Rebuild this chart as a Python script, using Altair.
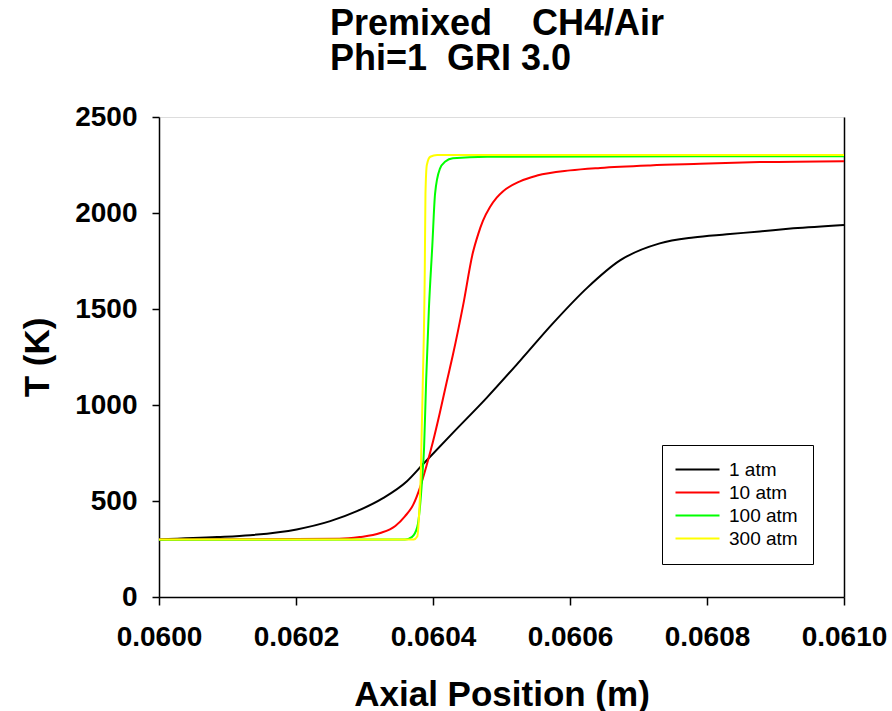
import altair as alt
import pandas as pd

# ---- data ----
series_names = ["1 atm", "10 atm", "100 atm", "300 atm"]
series_colors = ["#000000", "#ff0000", "#00ff00", "#ffff00"]

x_1atm = [0.060000, 0.060085, 0.060133, 0.060201, 0.060250, 0.060289, 0.060327,
          0.060362, 0.060385, 0.060429, 0.060479, 0.060527, 0.060575, 0.060625,
          0.060673, 0.060731, 0.060780, 0.060829, 0.060877, 0.060926, 0.061000]
t_1atm = [300, 312, 322, 352, 395, 447, 515,
          603, 690, 855, 1040, 1230, 1425, 1610,
          1753, 1842, 1873, 1889, 1904, 1920, 1938]

x_10atm = [0.060000, 0.060263, 0.060293, 0.060323, 0.060345, 0.060359, 0.060371,
           0.060381, 0.060391, 0.060400, 0.060410, 0.060420, 0.060429, 0.060444,
           0.060458, 0.060466, 0.060473, 0.060483, 0.060493, 0.060502, 0.060527,
           0.060552, 0.060600, 0.060644, 0.060717, 0.060790, 0.060877, 0.061000]
t_10atm = [300, 303, 312, 333, 370, 420, 480,
           570, 690, 810, 960, 1120, 1260, 1520,
           1790, 1890, 1960, 2030, 2080, 2112, 2165,
           2195, 2222, 2235, 2248, 2256, 2265, 2270]

x_100atm = [0.060000, 0.060359, 0.060369, 0.060377, 0.060381, 0.060384, 0.060387,
            0.060390, 0.060394, 0.060399, 0.060403, 0.060410, 0.060418, 0.060429,
            0.060479, 0.061000]
t_100atm = [298, 299, 312, 364, 470, 608, 780,
            1129, 1500, 1830, 2100, 2230, 2268, 2285,
            2293, 2296]

x_300atm = [0.060000, 0.060372, 0.060377, 0.060380, 0.060382, 0.060385, 0.060388,
            0.060389, 0.060391, 0.060396, 0.060406, 0.061000]
t_300atm = [300, 300, 315, 450, 620, 1100, 1700,
            2100, 2250, 2293, 2302, 2302]

x_ticks = [0.0600, 0.0602, 0.0604, 0.0606, 0.0608, 0.0610]
y_ticks = [0, 500, 1000, 1500, 2000, 2500]

title_lines = ["Premixed\u00a0\u00a0\u00a0\u00a0CH4/Air", "Phi=1\u00a0\u00a0GRI 3.0"]

frames = []
for name, xs, ts in zip(series_names,
                        [x_1atm, x_10atm, x_100atm, x_300atm],
                        [t_1atm, t_10atm, t_100atm, t_300atm]):
    frames.append(pd.DataFrame({"x": xs, "T": ts, "series": name}))
df = pd.concat(frames, ignore_index=True)

FONT = "Liberation Sans"

x_enc = alt.X("x:Q",
              scale=alt.Scale(domain=[0.06, 0.061], nice=False, zero=False),
              axis=alt.Axis(values=x_ticks, format=".4f", title="Axial Position (m)",
                            grid=False, tickSize=8, labelPadding=18,
                            labelFontSize=28, labelFont=FONT, labelFontWeight="bold",
                            labelColor="black", labelOverlap=False, labelFlush=False,
                            labelBound=False,
                            titleFontSize=35, titleFont=FONT, titleFontWeight="bold",
                            titleColor="black", titleBaseline="alphabetic",
                            titleY=108,
                            domainColor="black", domainWidth=1.5,
                            tickColor="black", tickWidth=1.5))

y_scale = alt.Scale(domain=[0, 2500], nice=False, zero=True)

lines = alt.Chart(df).mark_line(strokeWidth=2, interpolate="monotone").encode(
    x=x_enc,
    y=alt.Y("T:Q", scale=y_scale,
            axis=alt.Axis(values=y_ticks, format="d", title="T (K)", orient="left",
                          grid=False, tickSize=7, labelPadding=15,
                          labelFontSize=28, labelFont=FONT, labelFontWeight="bold",
                          labelColor="black", labelOverlap=False, labelFlush=False,
                          labelBound=False,
                          titleFontSize=35, titleFont=FONT, titleFontWeight="bold",
                          titleColor="black", titleAngle=270,
                          titleBaseline="alphabetic", titleX=-111, titleY=240,
                          domainColor="black", domainWidth=1.5,
                          tickColor="black", tickWidth=1.5)),
    color=alt.Color("series:N",
                    scale=alt.Scale(domain=series_names, range=series_colors),
                    sort=series_names,
                    legend=alt.Legend(title=None, orient="none",
                                      legendX=503, legendY=328,
                                      symbolType="M-4,0H4", symbolSize=121,
                                      symbolStrokeWidth=2, symbolOffset=11,
                                      labelFontSize=19, labelFont=FONT,
                                      labelColor="black", labelOffset=22,
                                      rowPadding=3, padding=15,
                                      strokeColor="black", fillColor="white")),
)

# right frame line (axis without ticks/labels)
right_frame = alt.Chart(df).mark_line(opacity=0).encode(
    x=alt.X("x:Q", scale=alt.Scale(domain=[0.06, 0.061], nice=False, zero=False)),
    y=alt.Y("T:Q", scale=y_scale,
            axis=alt.Axis(orient="right", labels=False, ticks=False, title=None,
                          grid=False, domainColor="black", domainWidth=1.5)),
)

chart = alt.layer(lines, right_frame).resolve_axis(y="independent").properties(
    width=685, height=480,
    autosize=alt.AutoSizeParams(type="none"),
    padding={"left": 159, "top": 117, "right": 48, "bottom": 114},
    title=alt.TitleParams(text=title_lines, anchor="start", align="left",
                          frame="group", dx=171,
                          fontSize=36, font=FONT, fontWeight="bold", color="black",
                          lineHeight=35, offset=25),
).configure_view(stroke=None).configure_legend(strokeWidth=1.5).configure(
    background="white")

chart.save("out.html", embed_options={"renderer": "svg", "actions": False})
